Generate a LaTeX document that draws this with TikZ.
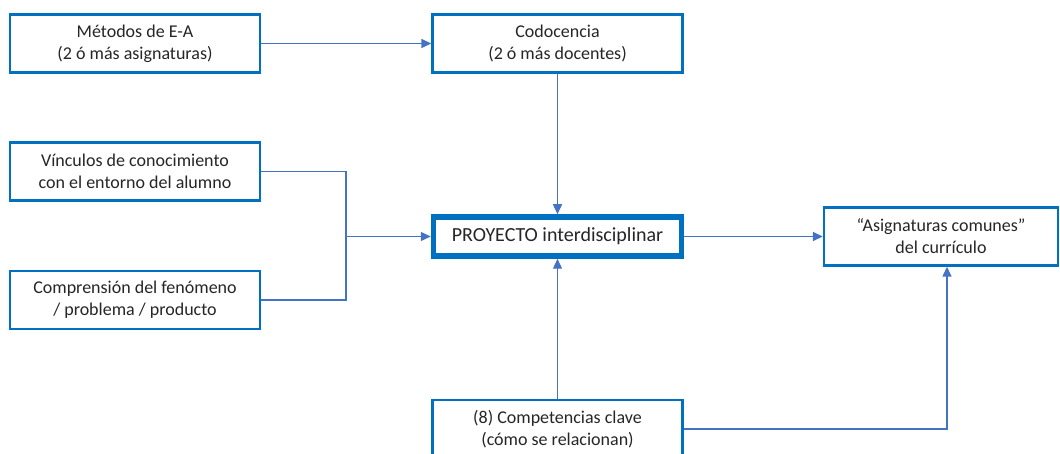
\documentclass[tikz,border=0pt]{standalone}
\usepackage{fontspec}
\setmainfont{Carlito}
\usetikzlibrary{arrows.meta}
\definecolor{boxblue}{RGB}{0,112,192}
\definecolor{linkblue}{RGB}{68,114,196}
\definecolor{textgray}{RGB}{38,38,38}
\begin{document}
\begin{tikzpicture}[x=1pt,y=-1pt,
    box/.style={draw=boxblue,line width=2.4pt,fill=white,text=textgray,align=center,
      minimum width=250pt,minimum height=58pt,inner sep=0pt,
      font=\fontsize{18}{22}\selectfont},
    mainbox/.style={box,line width=5.5pt,minimum width=248pt,minimum height=39pt,
      font=\fontsize{20}{24}\selectfont},
    link/.style={linkblue,line width=1.4pt},
    arr/.style={link,-{Triangle[length=10pt,width=9pt]}}]
  \useasboundingbox (0,0) rectangle (1060,454);

  \node[box] (metodos) at (135,43.5) {Métodos de E-A\\(2 ó más asignaturas)};
  \node[box] (codocencia) at (557.5,43.5) {Codocencia\\(2 ó más docentes)};
  \node[box] (vinculos) at (135,171.5) {Vínculos de conocimiento\\con el entorno del alumno};
  \node[box] (comprension) at (135,300) {Comprensión del fenómeno\\/ problema / producto};
  \node[mainbox] (proyecto) at (557.5,236.5) {PROYECTO interdisciplinar};
  \node[box,minimum width=234pt] (comunes) at (941,236.5) {“Asignaturas comunes”\\del currículo};
  \node[box] (competencias) at (557.5,429) {(8) Competencias clave\\(cómo se relacionan)};

  \coordinate (union) at (346,236.5);

  \draw[arr] (metodos) -- (codocencia);
  \draw[arr] (codocencia) -- (proyecto);
  \draw[link] (vinculos.east) -| (union) |- (comprension.east);
  \draw[arr] (union) -- (proyecto);
  \draw[arr] (competencias) -- (proyecto);
  \draw[arr] (proyecto) -- (comunes);
  \draw[arr] (competencias.east) -| ([xshift=6pt]comunes.south);
\end{tikzpicture}
\end{document}
